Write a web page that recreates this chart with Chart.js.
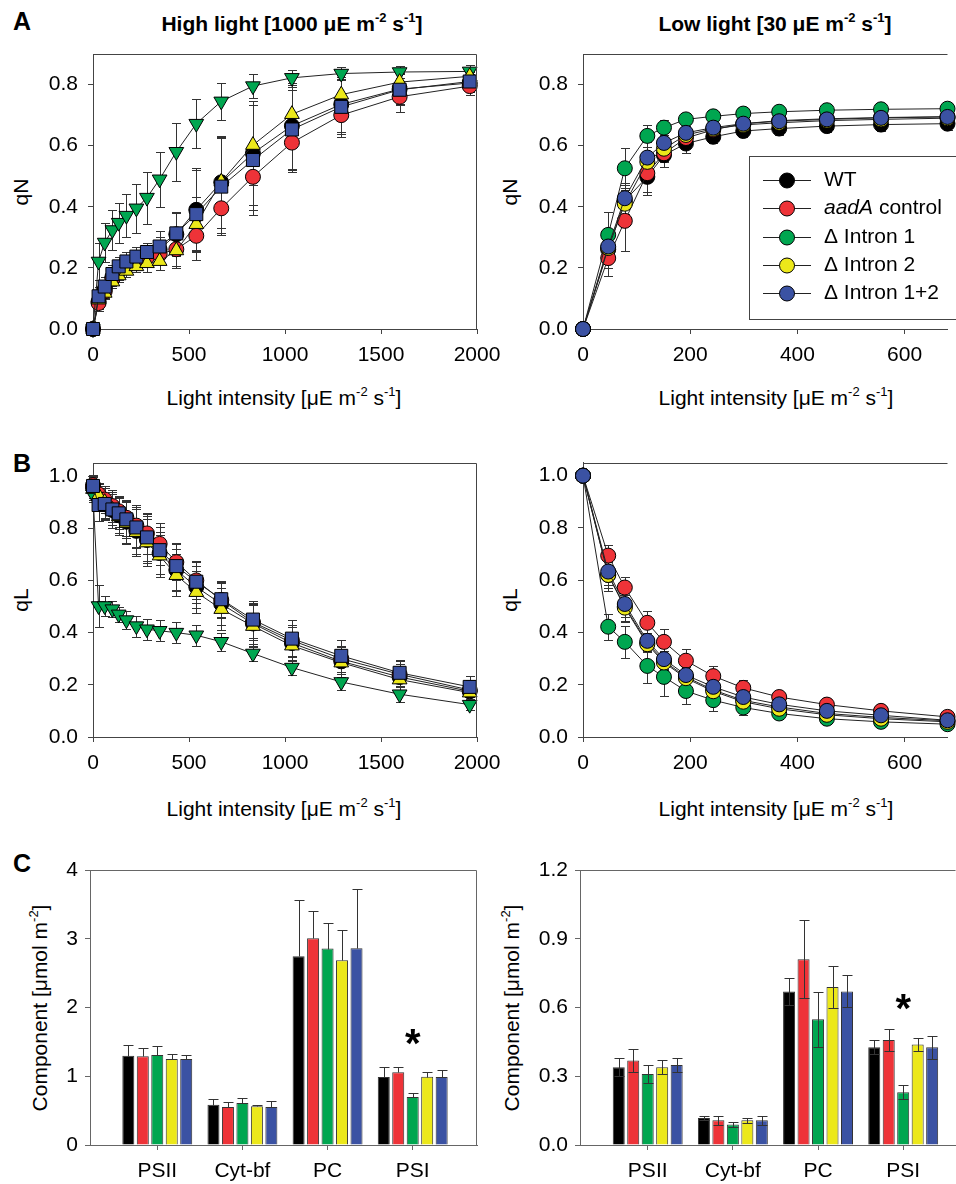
<!DOCTYPE html>
<html>
<head>
<meta charset="utf-8">
<script src="https://cdn.jsdelivr.net/npm/chart.js@4.4.1/dist/chart.umd.min.js"></script>
<style>
  body { margin: 0; background: #fff; width: 956px; height: 1184px; position: relative; overflow: hidden;
         font-family: "Liberation Sans", Arial, sans-serif; }
  canvas { position: absolute; }
  .t { position: absolute; white-space: nowrap; transform: translate(-50%, -50%); font-size: 21px; color: #000; }
  .t sup { font-size: 13px; vertical-align: 0; position: relative; top: -9px; }
  .v { transform: translate(-50%, -50%) rotate(-90deg); }
  .b { font-weight: bold; }
  .L { font-size: 25px; }
</style>
</head>
<body>

<div class="t b L" style="left:22px;top:21px">A</div>
<div class="t b L" style="left:22px;top:463px">B</div>
<div class="t b L" style="left:22px;top:863px">C</div>

<div class="t b" style="left:292px;top:24px">High light [1000 μE m<sup>-2</sup> s<sup>-1</sup>]</div>
<div class="t b" style="left:775px;top:24px">Low light [30 μE m<sup>-2</sup> s<sup>-1</sup>]</div>

<div class="t v" style="left:21px;top:192px">qN</div>
<div class="t v" style="left:510px;top:192px">qN</div>
<div class="t" style="left:284px;top:398px">Light intensity [μE m<sup>-2</sup> s<sup>-1</sup>]</div>
<div class="t" style="left:776px;top:398px">Light intensity [μE m<sup>-2</sup> s<sup>-1</sup>]</div>

<div class="t v" style="left:21px;top:600px">qL</div>
<div class="t v" style="left:510px;top:600px">qL</div>
<div class="t" style="left:284px;top:809px">Light intensity [μE m<sup>-2</sup> s<sup>-1</sup>]</div>
<div class="t" style="left:776px;top:809px">Light intensity [μE m<sup>-2</sup> s<sup>-1</sup>]</div>

<div class="t v" style="left:40px;top:1008px">Component [μmol m<sup>-2</sup>]</div>
<div class="t v" style="left:512px;top:1008px">Component [μmol m<sup>-2</sup>]</div>

<canvas id="qnHigh" width="520" height="345" style="left:0px;top:30px"></canvas>
<canvas id="qnLow" width="476" height="345" style="left:480px;top:30px"></canvas>
<canvas id="qlHigh" width="520" height="345" style="left:0px;top:440px"></canvas>
<canvas id="qlLow" width="476" height="345" style="left:480px;top:440px"></canvas>
<canvas id="compHigh" width="520" height="334" style="left:0px;top:850px"></canvas>
<canvas id="compLow" width="476" height="334" style="left:480px;top:850px"></canvas>

<script>
// Series names and colours
const series = ['WT', 'aadA control', 'Δ Intron 1', 'Δ Intron 2', 'Δ Intron 1+2'];
const colors = ['#000000', '#ee3338', '#00a650', '#ece81a', '#3b52a3'];

// Light intensities (µE m-2 s-1)
const lightHigh = [0, 29, 61, 101, 134, 174, 226, 281, 347, 434, 538, 668, 833, 1036, 1293, 1597, 1962];
const lightLow = [0, 47, 78, 120, 151, 192, 243, 299, 366, 455, 556, 680];

// qN, high-light grown plants
const qnHighWT    = [0, 0.09, 0.13, 0.17, 0.19, 0.21, 0.23, 0.245, 0.26, 0.31, 0.39, 0.48, 0.575, 0.665, 0.735, 0.785, 0.805];
const qnHighAadA  = [0, 0.085, 0.123, 0.165, 0.19, 0.205, 0.22, 0.235, 0.245, 0.261, 0.305, 0.395, 0.498, 0.61, 0.70, 0.76, 0.795];
const qnHighI1    = [0, 0.221, 0.283, 0.324, 0.348, 0.371, 0.395, 0.43, 0.49, 0.58, 0.672, 0.745, 0.795, 0.822, 0.836, 0.841, 0.843];
const qnHighI2    = [0, 0.096, 0.118, 0.155, 0.175, 0.19, 0.205, 0.215, 0.222, 0.257, 0.343, 0.482, 0.602, 0.703, 0.767, 0.808, 0.827];
const qnHighI12   = [0, 0.107, 0.139, 0.18, 0.205, 0.221, 0.237, 0.252, 0.27, 0.313, 0.376, 0.466, 0.553, 0.653, 0.727, 0.783, 0.81];
const qnHighErrWT   = [0, 0.03, 0.03, 0.03, 0.03, 0.03, 0.03, 0.03, 0.04, 0.07, 0.13, 0.15, 0.17, 0.14, 0.09, 0.05, 0.03];
const qnHighErrAadA = [0, 0.02, 0.02, 0.02, 0.02, 0.02, 0.02, 0.03, 0.03, 0.06, 0.05, 0.08, 0.11, 0.09, 0.07, 0.05, 0.03];
const qnHighErrI1   = [0, 0.06, 0.065, 0.065, 0.065, 0.07, 0.08, 0.085, 0.09, 0.095, 0.08, 0.06, 0.04, 0.025, 0.02, 0.02, 0.02];
const qnHighErrI2   = [0, 0.02, 0.02, 0.02, 0.02, 0.02, 0.02, 0.03, 0.03, 0.05, 0.09, 0.15, 0.13, 0.08, 0.05, 0.03, 0.02];
const qnHighErrI12  = [0, 0.03, 0.03, 0.03, 0.03, 0.03, 0.03, 0.03, 0.05, 0.07, 0.15, 0.16, 0.18, 0.14, 0.09, 0.05, 0.03];

// qN, low-light grown plants
const qnLowWT   = [0, 0.26, 0.42, 0.498, 0.569, 0.607, 0.629, 0.648, 0.656, 0.664, 0.669, 0.672];
const qnLowAadA = [0, 0.232, 0.354, 0.51, 0.575, 0.625, 0.652, 0.672, 0.682, 0.688, 0.692, 0.695];
const qnLowI1   = [0, 0.308, 0.526, 0.632, 0.659, 0.686, 0.696, 0.705, 0.711, 0.716, 0.719, 0.721];
const qnLowI2   = [0, 0.265, 0.41, 0.547, 0.59, 0.635, 0.655, 0.668, 0.675, 0.682, 0.686, 0.69];
const qnLowI12  = [0, 0.27, 0.428, 0.561, 0.609, 0.642, 0.659, 0.672, 0.68, 0.686, 0.691, 0.694];
const qnLowErrWT   = [0, 0.06, 0.05, 0.06, 0.04, 0.03, 0.02, 0.02, 0.02, 0.02, 0.02, 0.02];
const qnLowErrAadA = [0, 0.06, 0.1, 0.06, 0.03, 0.02, 0.02, 0.02, 0.02, 0.02, 0.02, 0.02];
const qnLowErrI1   = [0, 0.075, 0.065, 0.035, 0.025, 0.02, 0.02, 0.02, 0.02, 0.02, 0.02, 0.02];
const qnLowErrI2   = [0, 0.05, 0.05, 0.05, 0.04, 0.03, 0.02, 0.02, 0.02, 0.02, 0.02, 0.02];
const qnLowErrI12  = [0, 0.05, 0.05, 0.05, 0.04, 0.03, 0.02, 0.02, 0.02, 0.02, 0.02, 0.02];

// qL, high-light grown plants
const qlHighWT   = [0.955, 0.92, 0.895, 0.87, 0.85, 0.825, 0.79, 0.755, 0.705, 0.64, 0.575, 0.51, 0.435, 0.36, 0.29, 0.23, 0.175];
const qlHighAadA = [0.965, 0.93, 0.91, 0.885, 0.865, 0.84, 0.81, 0.78, 0.74, 0.67, 0.60, 0.525, 0.44, 0.37, 0.30, 0.24, 0.18];
const qlHighI1   = [0.93, 0.502, 0.502, 0.49, 0.47, 0.448, 0.425, 0.413, 0.407, 0.4, 0.39, 0.365, 0.32, 0.266, 0.211, 0.164, 0.124];
const qlHighI2   = [0.95, 0.925, 0.9, 0.87, 0.845, 0.82, 0.785, 0.745, 0.695, 0.62, 0.555, 0.49, 0.425, 0.35, 0.285, 0.22, 0.17];
const qlHighI12  = [0.962, 0.889, 0.893, 0.872, 0.857, 0.834, 0.803, 0.765, 0.716, 0.655, 0.595, 0.528, 0.45, 0.377, 0.311, 0.246, 0.192];
const qlHighErrWT   = [0.04, 0.05, 0.06, 0.07, 0.07, 0.08, 0.09, 0.09, 0.08, 0.08, 0.08, 0.08, 0.08, 0.07, 0.06, 0.05, 0.04];
const qlHighErrAadA = [0.04, 0.04, 0.05, 0.06, 0.06, 0.07, 0.08, 0.08, 0.08, 0.07, 0.07, 0.07, 0.07, 0.06, 0.05, 0.05, 0.04];
const qlHighErrI1   = [0.03, 0.08, 0.04, 0.03, 0.03, 0.035, 0.04, 0.04, 0.04, 0.04, 0.04, 0.035, 0.03, 0.03, 0.03, 0.03, 0.02];
const qlHighErrI2   = [0.04, 0.05, 0.06, 0.07, 0.07, 0.08, 0.09, 0.09, 0.08, 0.08, 0.08, 0.08, 0.08, 0.07, 0.06, 0.05, 0.04];
const qlHighErrI12  = [0.04, 0.06, 0.06, 0.06, 0.06, 0.07, 0.08, 0.09, 0.09, 0.09, 0.08, 0.07, 0.07, 0.07, 0.06, 0.05, 0.04];

// qL, low-light grown plants
const qlLowWT   = [1.0, 0.62, 0.5, 0.36, 0.29, 0.23, 0.18, 0.14, 0.115, 0.09, 0.075, 0.062];
const qlLowAadA = [1.0, 0.694, 0.572, 0.437, 0.364, 0.292, 0.233, 0.188, 0.153, 0.124, 0.1, 0.077];
const qlLowI1   = [1.0, 0.422, 0.364, 0.272, 0.23, 0.176, 0.141, 0.113, 0.09, 0.07, 0.058, 0.049];
const qlLowI2   = [1.0, 0.62, 0.495, 0.355, 0.285, 0.225, 0.175, 0.135, 0.108, 0.085, 0.07, 0.058];
const qlLowI12  = [1.0, 0.633, 0.509, 0.368, 0.298, 0.237, 0.192, 0.153, 0.125, 0.1, 0.083, 0.064];
const qlLowErrWT   = [0, 0.06, 0.06, 0.03, 0.03, 0.03, 0.02, 0.02, 0.02, 0.01, 0.01, 0.01];
const qlLowErrAadA = [0, 0.04, 0.04, 0.045, 0.05, 0.045, 0.04, 0.03, 0.02, 0.02, 0.01, 0.01];
const qlLowErrI1   = [0, 0.05, 0.06, 0.065, 0.075, 0.05, 0.04, 0.03, 0.02, 0.02, 0.01, 0.01];
const qlLowErrI2   = [0, 0.05, 0.05, 0.03, 0.03, 0.03, 0.02, 0.02, 0.02, 0.01, 0.01, 0.01];
const qlLowErrI12  = [0, 0.05, 0.05, 0.03, 0.03, 0.03, 0.02, 0.02, 0.02, 0.01, 0.01, 0.01];

// Photosynthetic complexes (µmol m-2)
const components = ['PSII', 'Cyt-bf', 'PC', 'PSI'];
const compHighWT   = [1.30, 0.586, 2.746, 0.988];
const compHighAadA = [1.29, 0.552, 3.007, 1.06];
const compHighI1   = [1.31, 0.61, 2.857, 0.697];
const compHighI2   = [1.25, 0.562, 2.688, 0.993];
const compHighI12  = [1.25, 0.552, 2.862, 0.988];
const compHighErrWT   = [0.15, 0.08, 0.82, 0.14];
const compHighErrAadA = [0.12, 0.08, 0.40, 0.08];
const compHighErrI1   = [0.13, 0.07, 0.37, 0.06];
const compHighErrI2   = [0.07, 0.02, 0.44, 0.07];
const compHighErrI12  = [0.06, 0.09, 0.86, 0.11];
const compLowWT   = [0.339, 0.118, 0.67, 0.427];
const compLowAadA = [0.369, 0.108, 0.811, 0.458];
const compLowI1   = [0.31, 0.089, 0.549, 0.23];
const compLowI2   = [0.339, 0.108, 0.689, 0.439];
const compLowI12  = [0.349, 0.108, 0.67, 0.427];
const compLowErrWT   = [0.04, 0.01, 0.06, 0.03];
const compLowErrAadA = [0.05, 0.02, 0.17, 0.05];
const compLowErrI1   = [0.04, 0.01, 0.12, 0.03];
const compLowErrI2   = [0.03, 0.01, 0.09, 0.03];
const compLowErrI12  = [0.03, 0.02, 0.07, 0.05];

// Significance marks (category index, value)
const starHigh = [3, 1.55];
const starLow = [3, 0.62];

// Tick labels
const qnTicks = [0, 0.2, 0.4, 0.6, 0.8];
const qlTicks = [0, 0.2, 0.4, 0.6, 0.8, 1.0];
const highXTicks = [0, 500, 1000, 1500, 2000];
const lowXTicks = [0, 200, 400, 600];
const compHighTicks = [0, 1, 2, 3, 4];
const compLowTicks = [0, 0.3, 0.6, 0.9, 1.2];
const compXTicks = [0, 1, 2, 3];


Chart.defaults.font.family = "'Liberation Sans', Arial, sans-serif";
Chart.defaults.font.size = 21;
Chart.defaults.color = '#000';


// Error bars, drawn from each dataset's err array
function drawErrors(chart, o) {
  const ctx = chart.ctx, ys = chart.scales.y;
  ctx.save();
  ctx.strokeStyle = o.color;
  ctx.lineWidth = 1;
  chart.data.datasets.forEach((ds, di) => {
    if (!ds.err) return;
    chart.getDatasetMeta(di).data.forEach((el, i) => {
      const v = ds.data[i].y, e = ds.err[i];
      if (!e) return;
      const x = Math.round(el.x) + 0.5;
      const top = Math.round(ys.getPixelForValue(v + e)) + 0.5;
      const bot = Math.round(ys.getPixelForValue(o.up ? v : v - e)) + 0.5;
      ctx.beginPath();
      ctx.moveTo(x, top); ctx.lineTo(x, bot);
      ctx.moveTo(x - o.cap, top); ctx.lineTo(x + o.cap, top);
      if (!o.up) { ctx.moveTo(x - o.cap, bot); ctx.lineTo(x + o.cap, bot); }
      ctx.stroke();
    });
  });
  ctx.restore();
}

const errBars = {
  id: 'errBars',
  beforeDatasetsDraw(chart, args, o) { if (!o.after) drawErrors(chart, o); },
  afterDatasetsDraw(chart, args, o) { if (o.after) drawErrors(chart, o); }
};

// Top (and right) edge of the plot box
const frame = {
  id: 'frame',
  afterDraw(chart, args, o) {
    const ctx = chart.ctx, a = chart.chartArea;
    const t = Math.round(a.top) + 0.5, r = Math.round(a.right) - 0.5;
    ctx.save();
    ctx.strokeStyle = o.color;
    ctx.lineWidth = 1;
    ctx.beginPath();
    ctx.moveTo(a.left, t); ctx.lineTo(r, t);
    if (o.right) ctx.lineTo(r, a.bottom);
    ctx.stroke();
    ctx.restore();
  }
};

// Asterisk above a bar group
const star = {
  id: 'star',
  afterDatasetsDraw(chart, args, o) {
    if (!o.at) return;
    const ctx = chart.ctx;
    ctx.save();
    ctx.font = "bold 40px 'Liberation Sans', Arial, sans-serif";
    ctx.textAlign = 'center';
    ctx.textBaseline = 'middle';
    ctx.fillStyle = '#000';
    ctx.fillText('*', chart.scales.x.getPixelForValue(o.at[0]), chart.scales.y.getPixelForValue(o.at[1]) + 8);
    ctx.restore();
  }
};

// Boxed legend inside the low light qN panel
const boxLegend = {
  id: 'boxLegend',
  afterDraw(chart, args, o) {
    if (!o.show) return;
    const ctx = chart.ctx;
    ctx.save();
    ctx.fillStyle = '#fff';
    ctx.fillRect(o.left, o.top, chart.width, o.height);
    ctx.strokeStyle = '#444';
    ctx.lineWidth = 1;
    ctx.strokeRect(o.left + 0.5, o.top + 0.5, chart.width, o.height);
    ctx.textBaseline = 'middle';
    chart.data.datasets.forEach((ds, i) => {
      const y = Math.round(o.top + o.first + i * o.step) + 0.5;
      ctx.strokeStyle = '#222';
      ctx.beginPath(); ctx.moveTo(o.left + 14, y); ctx.lineTo(o.left + 62, y); ctx.stroke();
      ctx.beginPath(); ctx.arc(o.left + 38, y, 7.5, 0, Math.PI * 2);
      ctx.fillStyle = ds.pointBackgroundColor; ctx.fill();
      ctx.strokeStyle = '#000'; ctx.stroke();
      ctx.fillStyle = '#000';
      let x = o.left + 75;
      let text = ds.label;
      if (text.startsWith('aadA')) {
        ctx.font = "italic 21px 'Liberation Sans', Arial, sans-serif";
        ctx.fillText('aadA', x, y);
        x += ctx.measureText('aadA').width;
        text = text.slice(4);
      }
      ctx.font = "21px 'Liberation Sans', Arial, sans-serif";
      ctx.fillText(text, x, y);
    });
    ctx.restore();
  }
};


// Scale helpers: box = canvas [left, top, width, height], plot = [left, top, right, bottom] on the page
function xAxis(min, max, ticks, fmt, height, pad, color) {
  return {
    type: 'linear', min: min, max: max, offset: false,
    afterBuildTicks: s => { s.ticks = ticks.map(v => ({ value: v })); },
    afterFit: s => { s.height = height; },
    grid: { drawOnChartArea: false, offset: false, tickLength: 5, tickColor: color },
    border: { color: color },
    ticks: { padding: pad, maxRotation: 0, autoSkip: false, callback: fmt }
  };
}

function yAxis(min, max, ticks, fmt, width, pad, color) {
  return {
    min: min, max: max,
    afterBuildTicks: s => { s.ticks = ticks.map(v => ({ value: v })); },
    afterFit: s => { s.width = width; },
    grid: { drawOnChartArea: false, tickLength: 5, tickColor: color },
    border: { color: color },
    ticks: { padding: pad, callback: fmt }
  };
}

function padding(box, plot) {
  return { left: 0, top: plot[1] - box[1], right: box[0] + box[2] - plot[2], bottom: 0 };
}

const oneDecimal = v => v.toFixed(1);
const plain = v => String(v);

function lineChart(id, box, plot, xs, ys, errs, xr, xTicks, yr, yTicks, marks, legend) {
  const datasets = ys.map((vals, i) => ({
    label: series[i],
    data: xs.map((x, j) => ({ x: x, y: vals[j] })),
    err: errs[i],
    order: ys.length - 1 - i,
    borderColor: '#222',
    borderWidth: 1,
    tension: 0,
    clip: false,
    pointStyle: marks.style[i],
    pointRotation: marks.rotation[i],
    pointRadius: marks.radius[i],
    pointBackgroundColor: colors[i],
    pointBorderColor: '#000',
    pointBorderWidth: 1
  }));
  return new Chart(document.getElementById(id), {
    type: 'line',
    data: { datasets: datasets },
    plugins: [errBars, frame, boxLegend],
    options: {
      responsive: false,
      animation: false,
      devicePixelRatio: 1,
      events: [],
      layout: { padding: padding(box, plot) },
      scales: {
        x: xAxis(xr[0], xr[1], xTicks, plain, box[1] + box[3] - plot[3], 9, '#444'),
        y: yAxis(yr[0], yr[1], yTicks, oneDecimal, plot[0] - box[0], 10, '#444')
      },
      plugins: {
        legend: { display: false },
        tooltip: { enabled: false },
        errBars: { color: '#333', cap: 4.5 },
        frame: { color: '#444', right: plot[2] < box[0] + box[2] },
        boxLegend: legend || { show: false }
      }
    }
  });
}

function barChart(id, box, plot, ys, errs, xr, yr, yTicks, fmt, up, starAt) {
  const datasets = ys.map((vals, i) => ({
    label: series[i],
    data: vals.map((v, j) => ({ x: compXTicks[j], y: v })),
    err: errs[i],
    backgroundColor: colors[i],
    borderColor: '#333',
    borderWidth: 1,
    categoryPercentage: 0.85,
    barPercentage: 0.83
  }));
  return new Chart(document.getElementById(id), {
    type: 'bar',
    data: { datasets: datasets },
    plugins: [errBars, frame, star],
    options: {
      responsive: false,
      animation: false,
      devicePixelRatio: 1,
      events: [],
      layout: { padding: padding(box, plot) },
      scales: {
        x: xAxis(xr[0], xr[1], compXTicks, v => components[v], box[1] + box[3] - plot[3], 9, '#666'),
        y: yAxis(yr[0], yr[1], yTicks, fmt, plot[0] - box[0], 7, '#666')
      },
      plugins: {
        legend: { display: false },
        tooltip: { enabled: false },
        errBars: { color: '#333', cap: 5, after: true, up: up },
        frame: { color: '#666', right: plot[2] < box[0] + box[2] },
        star: { at: starAt }
      }
    }
  });
}

const highMarks = {
  style: ['circle', 'circle', 'triangle', 'triangle', 'rect'],
  rotation: [0, 0, 180, 0, 0],
  radius: [7.5, 7.5, 8.5, 8.5, 9.2]
};
const lowMarks = {
  style: ['circle', 'circle', 'circle', 'circle', 'circle'],
  rotation: [0, 0, 0, 0, 0],
  radius: [7.5, 7.5, 7.5, 7.5, 7.5]
};


// A: qN
lineChart('qnHigh', [0, 30, 520, 345], [93, 54, 477, 329], lightHigh,
  [qnHighWT, qnHighAadA, qnHighI1, qnHighI2, qnHighI12],
  [qnHighErrWT, qnHighErrAadA, qnHighErrI1, qnHighErrI2, qnHighErrI12],
  [0, 2000], highXTicks, [0, 0.9], qnTicks, highMarks);

lineChart('qnLow', [480, 30, 476, 345], [583, 54, 956, 329], lightLow,
  [qnLowWT, qnLowAadA, qnLowI1, qnLowI2, qnLowI12],
  [qnLowErrWT, qnLowErrAadA, qnLowErrI1, qnLowErrI2, qnLowErrI12],
  [0, 680], lowXTicks, [0, 0.9], qnTicks, lowMarks,
  { show: true, left: 269, top: 126, height: 163, first: 24, step: 28.3 });

// B: qL
lineChart('qlHigh', [0, 440, 520, 345], [93, 463, 477, 737], lightHigh,
  [qlHighWT, qlHighAadA, qlHighI1, qlHighI2, qlHighI12],
  [qlHighErrWT, qlHighErrAadA, qlHighErrI1, qlHighErrI2, qlHighErrI12],
  [0, 2000], highXTicks, [0, 1.05], qlTicks, highMarks);

lineChart('qlLow', [480, 440, 476, 345], [583, 462, 956, 737], lightLow,
  [qlLowWT, qlLowAadA, qlLowI1, qlLowI2, qlLowI12],
  [qlLowErrWT, qlLowErrAadA, qlLowErrI1, qlLowErrI2, qlLowErrI12],
  [0, 680], lowXTicks, [0, 1.05], qlTicks, lowMarks);

// C: complex contents
barChart('compHigh', [0, 850, 520, 334], [90, 870, 477, 1145],
  [compHighWT, compHighAadA, compHighI1, compHighI2, compHighI12],
  [compHighErrWT, compHighErrAadA, compHighErrI1, compHighErrI2, compHighErrI12],
  [-0.79, 3.755], [0, 4], compHighTicks, plain, true, starHigh);

barChart('compLow', [480, 850, 476, 334], [580, 870, 956, 1145],
  [compLowWT, compLowAadA, compLowI1, compLowI2, compLowI12],
  [compLowErrWT, compLowErrAadA, compLowErrI1, compLowErrI2, compLowErrI12],
  [-0.795, 3.62], [0, 1.2], compLowTicks, oneDecimal, false, starLow);
</script>
</body>
</html>
